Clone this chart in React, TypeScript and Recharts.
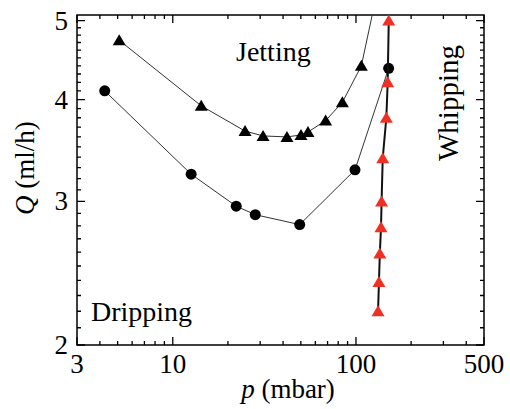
import { ScatterChart, Scatter, XAxis, YAxis, Customized } from "recharts";

// p (mbar) and Q (ml/h)
const pTriangle = [5.1, 14.3, 24.8, 31.1, 42, 50.1, 54.7, 68.3, 84.3, 107, 130];
const qTriangle = [4.73, 3.93, 3.66, 3.61, 3.6, 3.62, 3.65, 3.77, 3.97, 4.4, 5.4];

const pCircle = [4.25, 12.6, 22.2, 28.2, 49.3, 98.8, 150.8];
const qCircle = [4.1, 3.24, 2.96, 2.89, 2.81, 3.28, 4.37];

const pRed = [151, 149, 146.5, 140, 138, 137, 135, 133.5, 132];
const qRed = [5.0, 4.2, 3.8, 3.39, 3.0, 2.79, 2.59, 2.39, 2.2];

const xMajor = [3, 10, 100, 500];
const xMinor = [4, 5, 6, 7, 8, 9, 20, 30, 40, 50, 60, 70, 80, 90, 200, 300, 400];
const yMajor = [2, 3, 4, 5];
const yMinor = [
  2.1, 2.2, 2.3, 2.4, 2.5, 2.6, 2.7, 2.8, 2.9,
  3.1, 3.2, 3.3, 3.4, 3.5, 3.6, 3.7, 3.8, 3.9,
  4.1, 4.2, 4.3, 4.4, 4.5, 4.6, 4.7, 4.8, 4.9,
];

const toRows = (ps: number[], qs: number[]) => ps.map((p, i) => ({ p, q: qs[i] }));
const triangles = toRows(pTriangle, qTriangle);
const circles = toRows(pCircle, qCircle);
const reds = toRows(pRed, qRed);

const FONT = "Liberation Serif";
const X_DOMAIN = [3, 500];
const Y_DOMAIN = [2, 5.08];

// plot box, fixed by the margins and axis sizes below
const BOX = { left: 77, top: 15, width: 407, height: 330 };
const logPos = (v: number, [a, b]: number[]) => Math.log(v / a) / Math.log(b / a);

// frame and inward ticks on all four sides
const Frame = () => {
  const { left, top, width, height } = BOX;
  const right = left + width;
  const bottom = top + height;
  let d = "";
  for (const v of [...xMajor, ...xMinor]) {
    const x = left + logPos(v, X_DOMAIN) * width;
    const len = xMajor.includes(v) ? 8 : 4;
    d += `M${x},${bottom}V${bottom - len}M${x},${top}V${top + len}`;
  }
  for (const v of [...yMajor, ...yMinor]) {
    const y = bottom - logPos(v, Y_DOMAIN) * height;
    const len = yMajor.includes(v) ? 8 : 4;
    d += `M${left},${y}H${left + len}M${right},${y}H${right - len}`;
  }
  return (
    <g>
      <path d={d} stroke="#000" strokeWidth={1.3} fill="none" />
      <path d={`M${left},${top}H${right}V${bottom}H${left}Z`} stroke="#000" strokeWidth={1.5} fill="none" />
    </g>
  );
};

const XLabel = (props: any) => {
  const { x, y, payload } = props;
  return (
    <text x={x} y={y + 28} textAnchor="middle" fontFamily={FONT} fontSize={27} fill="#000">
      {payload.value}
    </text>
  );
};

const YLabel = (props: any) => {
  const { x, y, payload } = props;
  return (
    <text x={x - 9} y={y + 9} textAnchor="end" fontFamily={FONT} fontSize={27} fill="#000">
      {payload.value}
    </text>
  );
};

const Triangle = (color: string) => (props: any) => {
  const { cx, cy } = props;
  return <polygon points={`${cx},${cy - 6} ${cx - 6.5},${cy + 5} ${cx + 6.5},${cy + 5}`} fill={color} />;
};

const Dot = (props: any) => <circle cx={props.cx} cy={props.cy} r={5.5} fill="#000" />;

const Texts = () => (
  <g>
    <text x={236} y={61} fontFamily={FONT} fontSize={28} fill="#000">Jetting</text>
    <text x={91} y={321} fontFamily={FONT} fontSize={28} fill="#000">Dripping</text>
    <text x={458} y={103} fontFamily={FONT} fontSize={29} fill="#000" textAnchor="middle" transform="rotate(-90 458 103)">
      Whipping
    </text>
    <text x={34} y={168} fontFamily={FONT} fontSize={27} fill="#000" textAnchor="middle" transform="rotate(-90 34 168)">
      <tspan fontStyle="italic">Q</tspan> (ml/h)
    </text>
    <text x={288} y={398} fontFamily={FONT} fontSize={27} fill="#000" textAnchor="middle">
      <tspan fontStyle="italic">p</tspan> (mbar)
    </text>
  </g>
);

export default function App() {
  const common = {
    type: "number" as const,
    scale: "log" as const,
    allowDataOverflow: true,
    interval: 0 as const,
    tickSize: 0,
    tickMargin: 0,
    tickLine: false,
    axisLine: false,
  };
  return (
    <div style={{ position: "absolute", left: 0, top: 0 }}>
      <ScatterChart width={510} height={409} margin={{ top: BOX.top, right: 26, bottom: 0, left: 0 }}>
        <XAxis {...common} dataKey="p" domain={X_DOMAIN} ticks={xMajor} tick={XLabel} height={64} />
        <YAxis {...common} dataKey="q" domain={Y_DOMAIN} ticks={yMajor} tick={YLabel} width={BOX.left} />
        <Scatter data={triangles} line={{ stroke: "#333", strokeWidth: 1 }} shape={Triangle("#000")} isAnimationActive={false} />
        <Scatter data={circles} line={{ stroke: "#333", strokeWidth: 1 }} shape={Dot} isAnimationActive={false} />
        <Scatter data={reds} line={{ stroke: "#111", strokeWidth: 2 }} shape={Triangle("#ee3124")} isAnimationActive={false} />
        <Customized component={Frame} />
        <Customized component={Texts} />
      </ScatterChart>
    </div>
  );
}
